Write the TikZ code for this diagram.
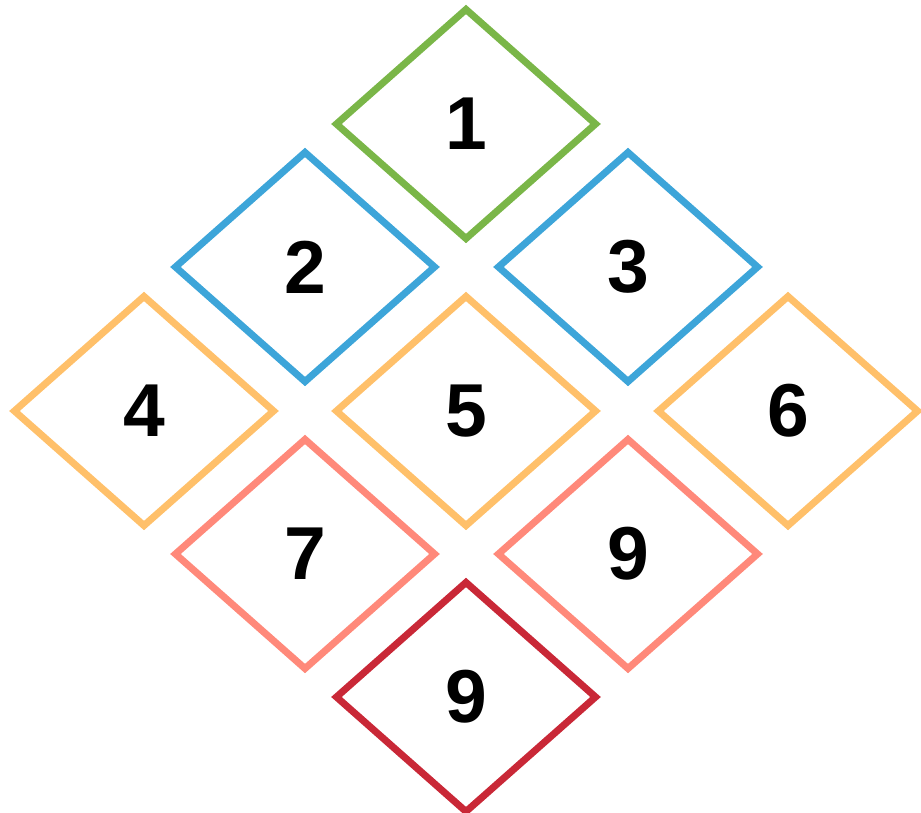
\documentclass[tikz,border=0pt]{standalone}
\usepackage{fontspec}
\setmainfont{Liberation Sans}
\usetikzlibrary{shapes.geometric}
\definecolor{cgreen}{RGB}{122,182,72}
\definecolor{cblue}{RGB}{61,165,217}
\definecolor{corange}{RGB}{255,192,106}
\definecolor{csalmon}{RGB}{255,137,122}
\definecolor{cred}{RGB}{201,40,55}
\tikzset{
  dia/.style={diamond, draw=#1, line width=7pt, inner sep=0pt,
    minimum width=262pt, minimum height=232pt,
    font=\fontsize{75pt}{75pt}\selectfont\bfseries, text=black}
}
\begin{document}
\begin{tikzpicture}[x=1pt,y=1pt]
\useasboundingbox (0,0) rectangle (921,813);
\node[dia=cgreen]  (d1) at (466,689) {1};
\node[dia=cblue]   (d2) at (305,546) {2};
\node[dia=cblue]   (d3) at (628,546) {3};
\node[dia=corange] (d4) at (144,402) {4};
\node[dia=corange] (d5) at (466,402) {5};
\node[dia=corange] (d6) at (788,402) {6};
\node[dia=csalmon] (d7) at (305,259) {7};
\node[dia=csalmon] (d8) at (628,259) {9};
\node[dia=cred]    (d9) at (466,116) {9};
\end{tikzpicture}
\end{document}
